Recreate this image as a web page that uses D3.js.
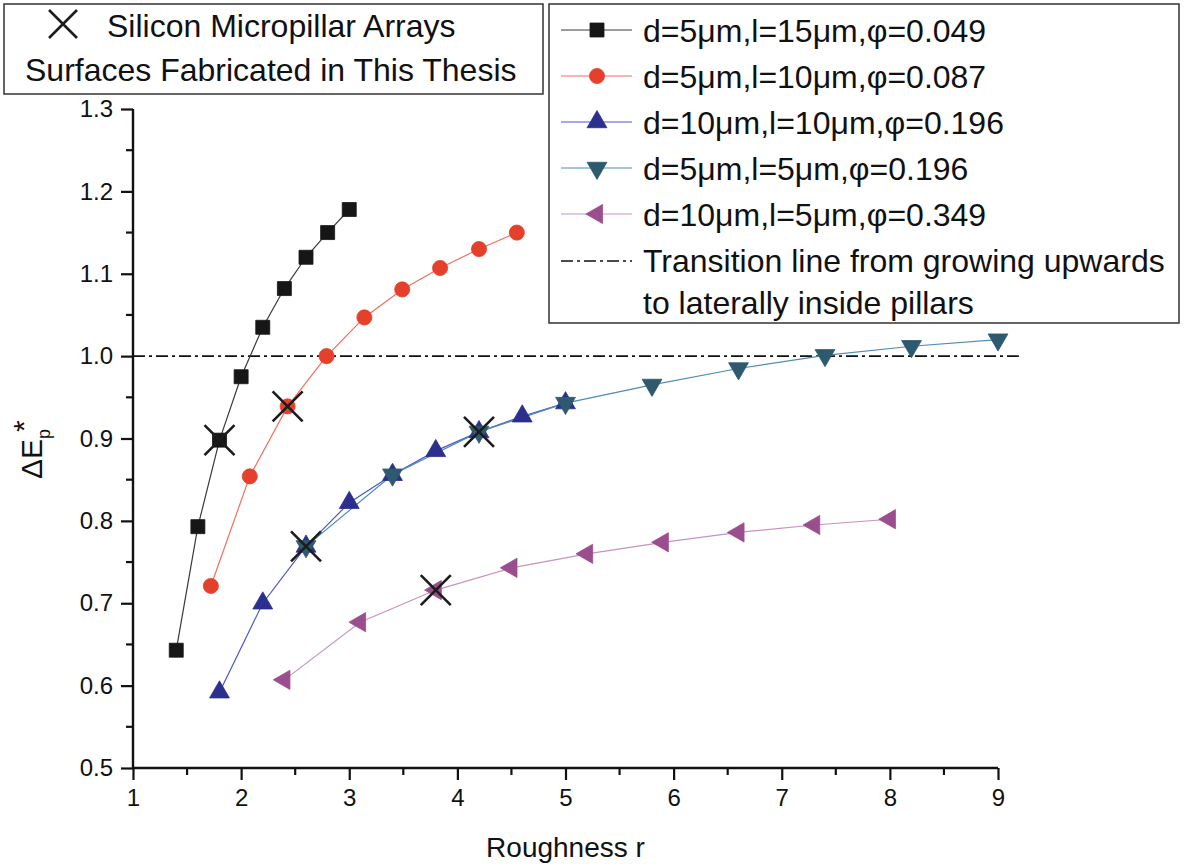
<!DOCTYPE html>
<html>
<head>
<meta charset="utf-8">
<script src="https://cdn.jsdelivr.net/npm/d3@7"></script>
<style>
  html, body { margin: 0; padding: 0; background: #ffffff; }
  svg { display: block; font-family: "Liberation Sans", Arial, sans-serif; }
</style>
</head>
<body>
<svg id="chart" width="1184" height="867"></svg>
<script>
// Roughness r (x) and normalised energy barrier ΔEp* (y) for each pillar geometry
const rBlack = [1.4, 1.6, 1.8, 2.0, 2.2, 2.4, 2.6, 2.8, 3.0];
const eBlack = [0.643, 0.793, 0.898, 0.975, 1.035, 1.082, 1.120, 1.150, 1.178];

const rRed = [1.72, 2.08, 2.43, 2.79, 3.14, 3.49, 3.84, 4.20, 4.55];
const eRed = [0.721, 0.854, 0.939, 1.000, 1.047, 1.081, 1.107, 1.130, 1.150];

const rBlue = [1.8, 2.2, 2.6, 3.0, 3.4, 3.8, 4.2, 4.6, 5.0];
const eBlue = [0.592, 0.700, 0.769, 0.822, 0.856, 0.885, 0.908, 0.927, 0.943];

const rTeal = [2.6, 3.4, 4.2, 5.0, 5.8, 6.6, 7.4, 8.2, 9.0];
const eTeal = [0.769, 0.856, 0.908, 0.943, 0.965, 0.985, 1.001, 1.012, 1.020];

const rPurple = [2.4, 3.1, 3.8, 4.5, 5.2, 5.9, 6.6, 7.3, 8.0];
const ePurple = [0.607, 0.677, 0.716, 0.743, 0.760, 0.774, 0.786, 0.795, 0.802];

// Surfaces actually fabricated (marked with a cross)
const rFab = [1.8, 2.43, 2.6, 3.8, 4.2];
const eFab = [0.898, 0.939, 0.769, 0.716, 0.908];

// Transition level and its extent along r
const transitionLevel = 1.0;
const transitionRange = [1.0, 9.2];

const seriesNames = [
  "d=5\u03bcm,l=15\u03bcm,\u03c6=0.049",
  "d=5\u03bcm,l=10\u03bcm,\u03c6=0.087",
  "d=10\u03bcm,l=10\u03bcm,\u03c6=0.196",
  "d=5\u03bcm,l=5\u03bcm,\u03c6=0.196",
  "d=10\u03bcm,l=5\u03bcm,\u03c6=0.349"
];
const transitionLabel = ["Transition line from growing upwards", "to laterally inside pillars"];
const fabLabel = ["Silicon Micropillar Arrays", "Surfaces Fabricated in This Thesis"];

const xTicks = [1, 2, 3, 4, 5, 6, 7, 8, 9];
const yTicks = [0.5, 0.6, 0.7, 0.8, 0.9, 1.0, 1.1, 1.2, 1.3];

const series = [
  { r: rBlack,  e: eBlack,  line: "#3a3a3a", fill: "#161616", shape: "square", rot: 0,   size: 196 },
  { r: rRed,    e: eRed,    line: "#f0705f", fill: "#e5402b", shape: "circle", rot: 0,   size: 180 },
  { r: rBlue,   e: eBlue,   line: "#4d58c4", fill: "#2b2f8e", shape: "tri",    rot: 0,   size: 170 },
  { r: rTeal,   e: eTeal,   line: "#4f8cb4", fill: "#2e5a6f", shape: "tri",    rot: 180, size: 170 },
  { r: rPurple, e: ePurple, line: "#c992bf", fill: "#9a4e8d", shape: "tri",    rot: -90, size: 160 }
];

const svg = d3.select("#chart");

const x = d3.scaleLinear().domain([1, 9]).range([133, 998]);
const y = d3.scaleLinear().domain([0.5, 1.3]).range([768, 109]);

const symbolType = s => s === "square" ? d3.symbolSquare : s === "circle" ? d3.symbolCircle : d3.symbolTriangle;

// ---- axes ----
const yAxis = d3.axisLeft(y).tickValues(yTicks).tickFormat(d3.format(".1f")).tickSize(12).tickPadding(8);
const gy = svg.append("g").attr("transform", `translate(${x(1)},0)`).call(yAxis);
gy.selectAll(".tick text").attr("font-size", 24).attr("fill", "#111");
gy.selectAll(".tick line").attr("stroke", "#111").attr("stroke-width", 2.2);
gy.select(".domain").attr("stroke", "#111").attr("stroke-width", 2.4).attr("d", `M0,${y(0.5)}V${y(1.3)}`);
gy.selectAll(".minor").data(d3.range(0.55, 1.3, 0.1)).enter().append("line")
  .attr("x1", 0).attr("x2", -7).attr("y1", d => y(d)).attr("y2", d => y(d))
  .attr("stroke", "#111").attr("stroke-width", 2.2);

const xAxis = d3.axisBottom(x).tickValues(xTicks).tickFormat(d3.format("d")).tickSize(12).tickPadding(9);
const gx = svg.append("g").attr("transform", `translate(0,${y(0.5)})`).call(xAxis);
gx.selectAll(".tick text").attr("font-size", 24).attr("fill", "#111");
gx.selectAll(".tick line").attr("stroke", "#111").attr("stroke-width", 2.2);
gx.select(".domain").attr("stroke", "#111").attr("stroke-width", 2.4).attr("d", `M${x(1)},0H${x(9)}`);
gx.selectAll(".minor").data(d3.range(1.5, 9, 1)).enter().append("line")
  .attr("y1", 0).attr("y2", 7).attr("x1", d => x(d)).attr("x2", d => x(d))
  .attr("stroke", "#111").attr("stroke-width", 2.2);

// axis titles
svg.append("text").attr("x", x(5)).attr("y", 857).attr("text-anchor", "middle")
  .attr("font-size", 28).attr("fill", "#111").text("Roughness r");

const yl = svg.append("text").attr("transform", "translate(42,479) rotate(-90)")
  .attr("font-size", 30).attr("fill", "#111");
yl.append("tspan").text("\u0394E");
yl.append("tspan").attr("font-size", 18).attr("dy", 8).text("p");
yl.append("tspan").attr("font-size", 30).attr("dx", -3).attr("dy", -16).text("*");

// ---- transition line ----
svg.append("line")
  .attr("x1", x(transitionRange[0])).attr("x2", x(transitionRange[1]))
  .attr("y1", y(transitionLevel)).attr("y2", y(transitionLevel))
  .attr("stroke", "#111").attr("stroke-width", 1.6).attr("stroke-dasharray", "12,4,3,4");

// ---- series ----
series.forEach(s => {
  const pts = s.r.map((r, i) => [r, s.e[i]]);
  svg.append("path").datum(pts)
    .attr("fill", "none").attr("stroke", s.line).attr("stroke-width", 1.2)
    .attr("d", d3.line().x(d => x(d[0])).y(d => y(d[1])));
});
series.forEach(s => {
  const pts = s.r.map((r, i) => [r, s.e[i]]);
  svg.append("g").selectAll("path").data(pts).enter().append("path")
    .attr("d", d3.symbol().type(symbolType(s.shape)).size(s.size))
    .attr("transform", d => `translate(${x(d[0])},${y(d[1])}) rotate(${s.rot})`)
    .attr("fill", s.fill).attr("stroke", s.fill).attr("stroke-width", 0.8);
});

// ---- fabricated-surface crosses ----
function cross(g, cx, cy, h) {
  g.append("path").attr("d", `M${cx - h},${cy - h}L${cx + h},${cy + h}M${cx - h},${cy + h}L${cx + h},${cy - h}`)
    .attr("stroke", "#1c1c1c").attr("stroke-width", 2.6).attr("fill", "none");
}
const gf = svg.append("g");
rFab.forEach((r, i) => cross(gf, x(r), y(eFab[i]), 15));

// ---- legend: fabricated surfaces ----
const lg1 = svg.append("g");
lg1.append("rect").attr("x", 4).attr("y", 4).attr("width", 539).attr("height", 90)
  .attr("fill", "#fff").attr("stroke", "#333").attr("stroke-width", 1.5);
cross(lg1, 63, 24, 14);
lg1.append("text").attr("x", 107).attr("y", 37).attr("font-size", 32).attr("fill", "#111").text(fabLabel[0]);
lg1.append("text").attr("x", 25).attr("y", 81).attr("font-size", 32).attr("fill", "#111").text(fabLabel[1]);

// ---- legend: series ----
const lg2 = svg.append("g");
lg2.append("rect").attr("x", 549).attr("y", 4).attr("width", 630).attr("height", 319)
  .attr("fill", "#fff").attr("stroke", "#333").attr("stroke-width", 1.5);
const rowY = [30, 76, 122, 168, 214];
series.forEach((s, i) => {
  const cy = rowY[i];
  lg2.append("line").attr("x1", 561).attr("x2", 632).attr("y1", cy).attr("y2", cy)
    .attr("stroke", s.line).attr("stroke-width", 1.2);
  lg2.append("path").attr("d", d3.symbol().type(symbolType(s.shape)).size(s.size))
    .attr("transform", `translate(597,${cy}) rotate(${s.rot})`)
    .attr("fill", s.fill).attr("stroke", s.fill).attr("stroke-width", 0.8);
  lg2.append("text").attr("x", 643).attr("y", cy + 11.5).attr("font-size", 32).attr("fill", "#111").text(seriesNames[i]);
});
lg2.append("line").attr("x1", 561).attr("x2", 632).attr("y1", 261).attr("y2", 261)
  .attr("stroke", "#111").attr("stroke-width", 1.6).attr("stroke-dasharray", "12,4,3,4");
lg2.append("text").attr("x", 643).attr("y", 272).attr("font-size", 32).attr("fill", "#111").text(transitionLabel[0]);
lg2.append("text").attr("x", 643).attr("y", 314).attr("font-size", 32).attr("fill", "#111").text(transitionLabel[1]);
</script>
</body>
</html>
